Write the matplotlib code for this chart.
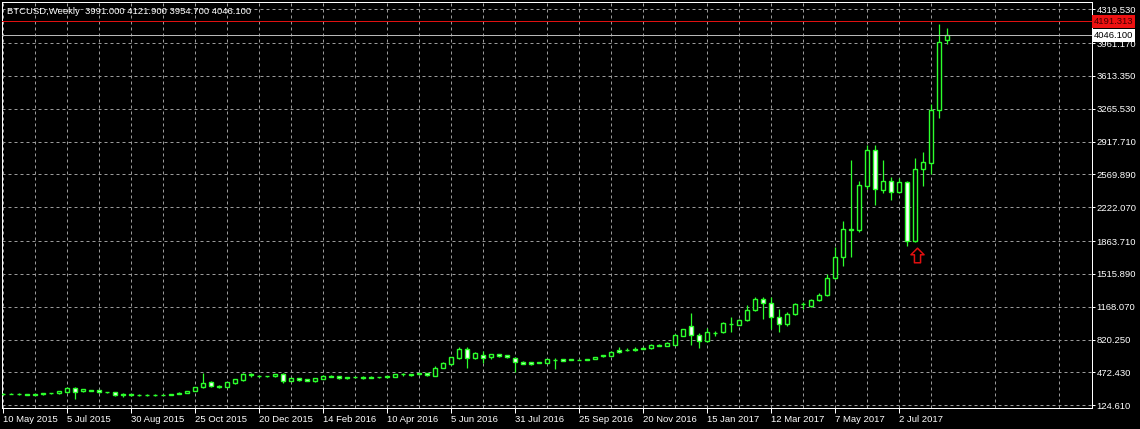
import numpy as np
import matplotlib
matplotlib.use('Agg')
import matplotlib.pyplot as plt
from matplotlib.path import Path
from matplotlib.transforms import blended_transform_factory

# weekly BTCUSD candles, first bar = week of 10 May 2015
opens = [245, 248, 246, 244, 237, 240, 251, 251, 265, 304,
         272, 285, 283, 262, 261, 238, 240, 230, 236, 235,
         236, 238, 246, 258, 276, 314, 368, 330, 322, 360,
         390, 452, 440, 436, 432, 458, 386, 410, 398, 380,
         408, 440, 430, 420, 420, 428, 426, 422, 434, 428,
         451, 450, 468, 464, 440, 522, 558, 622, 724, 624,
         658, 632, 668, 654, 630, 588, 580, 578, 572, 605,
         612, 608, 606, 606, 616, 642, 650, 710, 706, 724,
         734, 730, 766, 754, 768, 862, 964, 869, 803, 888,
         898, 990, 980, 1024, 1133, 1249, 1207, 1059, 984, 1090,
         1193, 1178, 1235, 1288, 1474, 1692, 1990, 1979, 2447, 2833,
         2404, 2506, 2383, 2485, 1860, 2633, 2693, 3248, 3991.0]
highs = [252, 252, 250, 246, 244, 256, 256, 274, 321, 314,
         296, 290, 286, 268, 264, 258, 246, 240, 242, 240,
         246, 248, 262, 280, 320, 472, 380, 340, 372, 402,
         462, 470, 450, 440, 460, 462, 416, 414, 402, 418,
         442, 446, 436, 424, 428, 432, 430, 426, 438, 458,
         462, 460, 470, 470, 536, 580, 640, 746, 746, 690,
         695, 672, 672, 662, 634, 594, 586, 586, 616, 630,
         618, 616, 610, 620, 640, 662, 702, 740, 732, 740,
         742, 770, 772, 790, 880, 935, 1098, 890, 945, 912,
         1010, 1055, 1040, 1188, 1272, 1272, 1277, 1143, 1115, 1212,
         1222, 1250, 1318, 1516, 1804, 2078, 2728, 2500, 2879, 2879,
         2728, 2545, 2530, 2499, 2745, 2805, 3314, 4164, 4121.9]
lows = [238, 240, 236, 232, 234, 236, 244, 246, 258, 195,
        265, 274, 258, 254, 223, 212, 226, 226, 228, 226,
        232, 235, 242, 254, 272, 306, 318, 312, 316, 350,
        384, 428, 426, 425, 428, 356, 378, 382, 380, 372,
        400, 420, 400, 405, 410, 408, 410, 416, 418, 425,
        440, 438, 448, 440, 436, 518, 552, 614, 521, 616,
        575, 618, 640, 626, 476, 560, 556, 570, 568, 514,
        592, 600, 600, 604, 612, 638, 645, 680, 696, 700,
        716, 726, 748, 750, 764, 855, 761, 736, 790, 862,
        890, 905, 970, 1018, 1125, 1035, 929, 898, 960, 1080,
        1148, 1170, 1230, 1280, 1460, 1597, 1698, 1960, 2420, 2243,
        2370, 2299, 2370, 1807, 1850, 2453, 2580, 3167, 3954.7]
closes = [248, 246, 244, 237, 240, 251, 250, 272, 307, 269,
          293, 279, 262, 261, 233, 240, 230, 236, 235, 230,
          238, 246, 258, 276, 314, 365, 330, 322, 368, 398,
          452, 448, 437, 434, 458, 386, 412, 390, 386, 412,
          438, 424, 410, 410, 422, 414, 414, 422, 422, 454,
          452, 452, 452, 446, 525, 570, 634, 724, 628, 682,
          624, 664, 646, 632, 586, 566, 562, 579, 612, 608,
          598, 610, 604, 616, 636, 656, 694, 688, 708, 706,
          720, 766, 752, 782, 868, 928, 866, 806, 904, 892,
          992, 988, 1030, 1136, 1249, 1207, 1056, 987, 1094, 1196,
          1195, 1242, 1295, 1477, 1695, 1990, 1978, 2454, 2833, 2411,
          2506, 2387, 2488, 1867, 2633, 2700, 3248, 3971, 4046.1]

date_labels = ['10 May 2015', '5 Jul 2015', '30 Aug 2015', '25 Oct 2015',
               '20 Dec 2015', '14 Feb 2016', '10 Apr 2016', '5 Jun 2016',
               '31 Jul 2016', '25 Sep 2016', '20 Nov 2016', '15 Jan 2017',
               '12 Mar 2017', '7 May 2017', '2 Jul 2017']
price_ticks = [124.61, 472.43, 820.25, 1168.07, 1515.89, 1863.71, 2222.07,
               2569.89, 2917.71, 3265.53, 3613.35, 3961.17, 4319.53]

header = 'BTCUSD,Weekly  3991.000 4121.900 3954.700 4046.100'
level_line = 4191.313
last_price = 4046.1
arrow_week = 114.2
arrow_price = 1705

lime = '#2cff2c'
grid_col = '#9a9a9a'
px = 0.72  # one pixel in points at dpi 100

plt.rcParams['font.family'] = ['Liberation Sans', 'DejaVu Sans']

fig = plt.figure(figsize=(11.4, 4.29), dpi=100, facecolor='black')
W, H = 1140, 429
ax = fig.add_axes([2 / W, (H - 408.3) / H, 1090 / W, 406.3 / H])
ax.set_facecolor('black')

o = np.array(opens, float)
h = np.array(highs, float)
l = np.array(lows, float)
c = np.array(closes, float)
wk = np.arange(len(o))

ax.vlines(wk, l, h, color=lime, lw=0.9, zorder=3)
bull = c >= o
ax.bar(wk[bull], (c - o)[bull], bottom=o[bull], width=0.62,
       facecolor='black', edgecolor=lime, linewidth=1.0, zorder=4)
ax.bar(wk[~bull], (c - o)[~bull], bottom=o[~bull], width=0.62,
       facecolor='white', edgecolor=lime, linewidth=1.0, zorder=4)

ax.axhline(level_line, color='#e01010', lw=px, zorder=5)
ax.axhline(last_price, color='#b8b8b8', lw=px, zorder=5)

# red "buy" arrow
arrow = Path([(0, 1), (0.9, 0.1), (0.42, 0.1), (0.42, -1), (-0.42, -1),
              (-0.42, 0.1), (-0.9, 0.1), (0, 1)],
             [Path.MOVETO] + [Path.LINETO] * 6 + [Path.CLOSEPOLY])
ax.plot([arrow_week], [arrow_price + 15], marker=arrow, ms=10.5, mfc='black',
        mec='#e01010', mew=1.1, ls='none', zorder=6)

ax.set_xlim(-0.125, 136.125)
ax.set_ylim(92.8, 4397.2)

ax.set_xticks(np.arange(0, 8 * len(date_labels), 8))
ax.set_xticklabels(date_labels)
ax.set_xticks(np.arange(4, 136, 8), minor=True)
for lbl in ax.get_xticklabels():
    lbl.set_ha('left')
ax.set_yticks(price_ticks)
ax.set_yticklabels([f'{v:.3f}' for v in price_ticks])
ax.yaxis.tick_right()

ax.tick_params(axis='x', which='major', colors='white', length=3.6,
               width=px, pad=1, labelsize=6.8)
ax.tick_params(axis='x', which='minor', length=0)
ax.tick_params(axis='y', colors='white', length=2.2, width=px, pad=1.2,
               labelsize=6.8)

ax.grid(True, which='both', axis='x', color=grid_col, lw=px, ls=(0, (3, 3)))
ax.grid(True, axis='y', color=grid_col, lw=px, ls=(0, (3, 3)))
ax.set_axisbelow(True)

for s in ax.spines.values():
    s.set_color('white')
    s.set_linewidth(px)

ax.text(5 / 1090, 0.977, header, transform=ax.transAxes, color='white',
        fontsize=6.8, va='center', ha='left', zorder=7)

tr = blended_transform_factory(ax.transAxes, ax.transData)
ax.text(1.0015, level_line, f'{level_line:.3f}', transform=tr, color='#400000',
        fontsize=6.8, va='center', ha='left', clip_on=False, zorder=8,
        bbox=dict(boxstyle='square,pad=0.2', fc='#ee1111', ec='none'))
ax.text(1.0015, last_price, f'{last_price:.3f}', transform=tr, color='black',
        fontsize=6.8, va='center', ha='left', clip_on=False, zorder=8,
        bbox=dict(boxstyle='square,pad=0.2', fc='white', ec='none'))

fig.savefig('out.png', dpi=100, facecolor='black')
